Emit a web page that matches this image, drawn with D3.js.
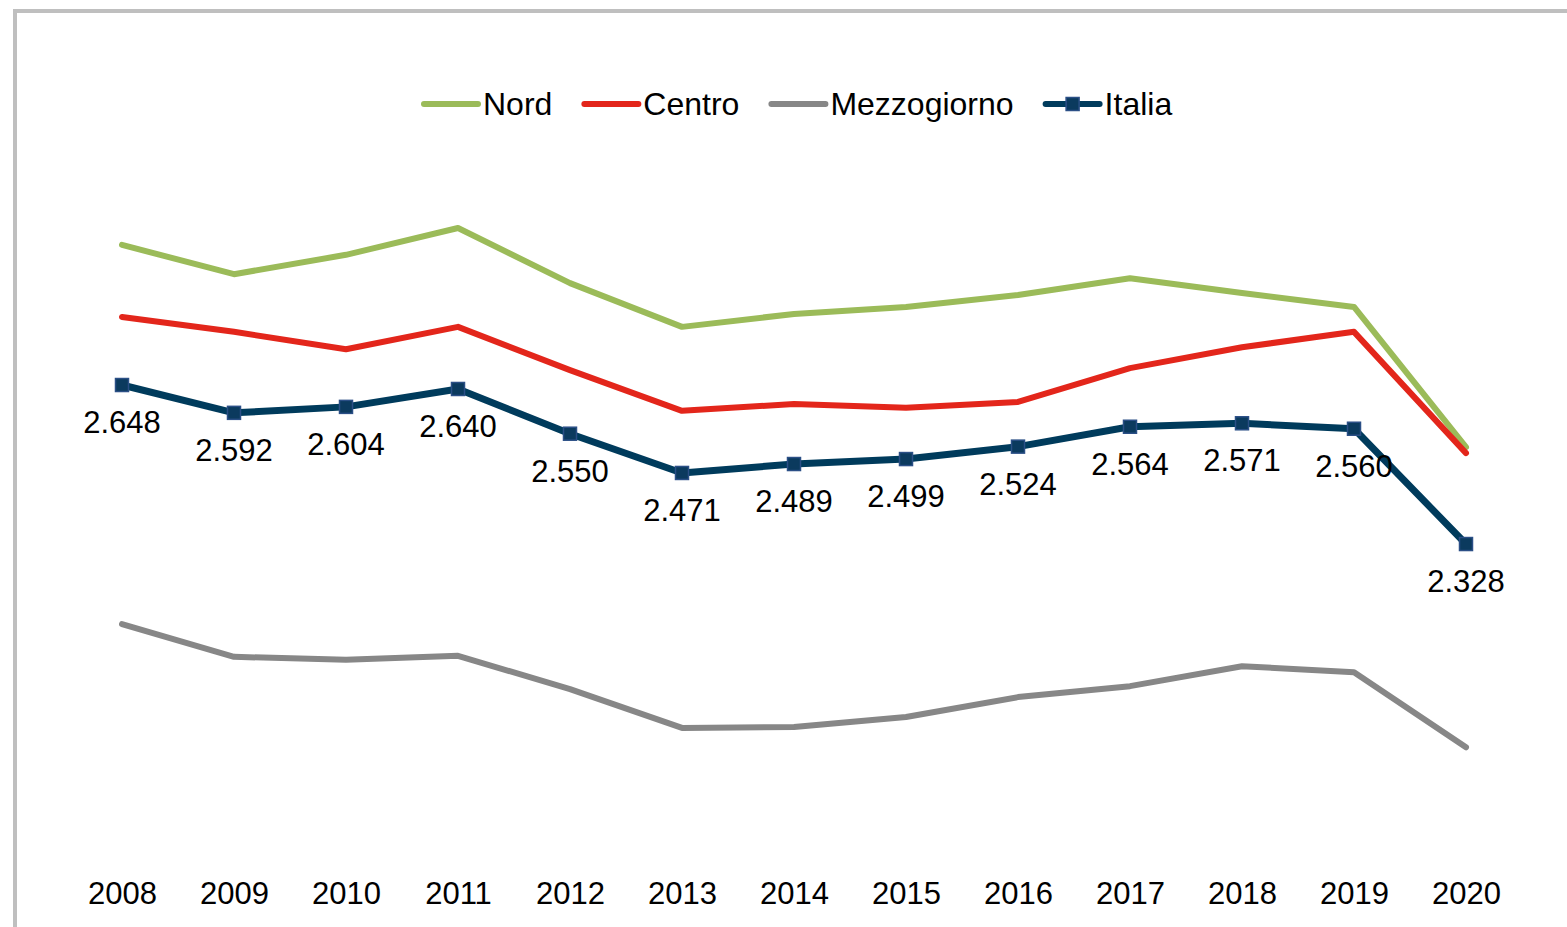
<!DOCTYPE html>
<html>
<head>
<meta charset="utf-8">
<script src="https://cdn.jsdelivr.net/npm/d3@7"></script>
<style>
  html, body { margin: 0; padding: 0; background: #ffffff; }
  svg { display: block; }
  text { font-family: "Liberation Sans", Arial, sans-serif; fill: #000; }
</style>
</head>
<body>
<svg id="chart" width="1567" height="927"></svg>
<script>
// ---- data ----
const years = ["2008","2009","2010","2011","2012","2013","2014","2015","2016","2017","2018","2019","2020"];
const nord = [2.930, 2.871, 2.910, 2.964, 2.853, 2.765, 2.791, 2.805, 2.829, 2.863, 2.833, 2.805, 2.523];
const centro = [2.785, 2.755, 2.720, 2.765, 2.678, 2.596, 2.610, 2.602, 2.614, 2.682, 2.724, 2.755, 2.511];
const mezzogiorno = [2.167, 2.101, 2.095, 2.103, 2.036, 1.958, 1.960, 1.980, 2.020, 2.042, 2.082, 2.070, 1.919];
const italia = [2.648, 2.592, 2.604, 2.640, 2.550, 2.471, 2.489, 2.499, 2.524, 2.564, 2.571, 2.560, 2.328];
const seriesNames = ["Nord", "Centro", "Mezzogiorno", "Italia"];
const seriesColors = ["#9bbb59", "#e3261b", "#878787", "#003b5c"];

// ---- layout ----
const W = 1567, H = 927;
const svg = d3.select("#chart");
svg.append("rect").attr("x", 0).attr("y", 0).attr("width", W).attr("height", H).attr("fill", "#fff");
// frame
svg.append("rect").attr("x", 15).attr("y", 11).attr("width", W + 40).attr("height", H + 40)
  .attr("fill", "none").attr("stroke", "#bfbfbf").attr("stroke-width", 4);

const x = d3.scalePoint().domain(years).range([66, 1522]).padding(0.5);
const y = d3.scaleLinear().domain([1.7, 3.1]).range([856.1, 160.4]);

const fmt = v => d3.format(".3f")(v);

const allSeries = [nord, centro, mezzogiorno, italia];
const line = d3.line().x((d, i) => x(years[i])).y(d => y(d));

allSeries.forEach((s, k) => {
  svg.append("path").datum(s)
    .attr("d", line)
    .attr("fill", "none")
    .attr("stroke", seriesColors[k])
    .attr("stroke-width", k === 3 ? 7 : 6)
    .attr("stroke-linecap", "round")
    .attr("stroke-linejoin", "round");
});

// Italia markers
const ms = 13;
svg.append("g").selectAll("rect").data(italia).join("rect")
  .attr("x", (d, i) => x(years[i]) - ms / 2)
  .attr("y", d => y(d) - ms / 2)
  .attr("width", ms).attr("height", ms)
  .attr("fill", "#0b3a5e").attr("stroke", "#2b4f86").attr("stroke-width", 1.5);

// data labels
svg.append("g").selectAll("text").data(italia).join("text")
  .attr("x", (d, i) => x(years[i]))
  .attr("y", d => y(d) + 48)
  .attr("text-anchor", "middle")
  .style("font-size", "31px")
  .text(d => fmt(d));

// x axis (no line/ticks)
const xAxis = d3.axisBottom(x).tickSize(0).tickPadding(0);
const gx = svg.append("g").attr("transform", "translate(0,881)").call(xAxis);
gx.select(".domain").remove();
gx.selectAll("text")
  .attr("dy", null).attr("y", 23)
  .style("font-size", "31px")
  .style("font-family", "'Liberation Sans', Arial, sans-serif")
  .attr("fill", "#000");

// legend
const lg = svg.append("g");
let lx = 424;
const ly = 104;
seriesNames.forEach((name, k) => {
  lg.append("line").attr("x1", lx).attr("x2", lx + 54).attr("y1", ly).attr("y2", ly)
    .attr("stroke", seriesColors[k]).attr("stroke-width", 6).attr("stroke-linecap", "round");
  if (k === 3) {
    lg.append("rect").attr("x", lx + 27 - ms / 2).attr("y", ly - ms / 2)
      .attr("width", ms).attr("height", ms)
      .attr("fill", "#0b3a5e").attr("stroke", "#2b4f86").attr("stroke-width", 1.5);
  }
  const t = lg.append("text").attr("x", lx + 59).attr("y", ly + 11)
    .style("font-size", "32px").text(name);
  const w = t.node().getComputedTextLength();
  lx = lx + 59 + w + 32;
});
</script>
</body>
</html>
